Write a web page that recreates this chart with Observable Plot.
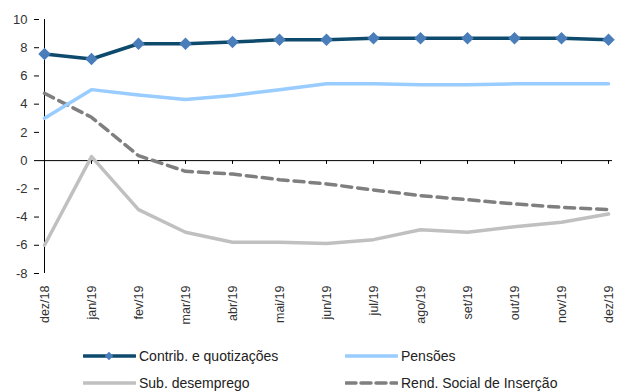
<!DOCTYPE html>
<html>
<head>
<meta charset="utf-8">
<script src="https://cdn.jsdelivr.net/npm/d3@7"></script>
<script src="https://cdn.jsdelivr.net/npm/@observablehq/plot@0.6"></script>
<style>
  body { margin: 0; background: #fff; font-family: "Liberation Sans", Arial, sans-serif; }
  #wrap { position: relative; width: 620px; height: 392px; }
  #wrap svg g[aria-label="x-axis tick label"] { font-size: 12.5px; }
  #wrap svg g[aria-label="y-axis tick label"] { font-size: 13px; }
  .leg { position: absolute; display: flex; align-items: center; font-size: 14px; color: #222; white-space: nowrap; }
  .leg svg { margin-right: 3px; }
</style>
</head>
<body>
<div id="wrap"></div>
<script>
const months = ["dez/18","jan/19","fev/19","mar/19","abr/19","mai/19","jun/19","jul/19","ago/19","set/19","out/19","nov/19","dez/19"];
const contrib = [7.55, 7.2, 8.28, 8.28, 8.4, 8.57, 8.57, 8.67, 8.67, 8.67, 8.67, 8.67, 8.57];
const pensoes = [3.0, 5.03, 4.65, 4.33, 4.62, 5.02, 5.44, 5.44, 5.37, 5.37, 5.44, 5.44, 5.44];
const subDesemprego = [-6.0, 0.28, -3.47, -5.08, -5.79, -5.79, -5.88, -5.6, -4.9, -5.08, -4.68, -4.37, -3.78];
const rsi = [4.77, 3.07, 0.35, -0.76, -0.95, -1.35, -1.65, -2.08, -2.48, -2.77, -3.07, -3.31, -3.47];
const yTicks = [-8, -6, -4, -2, 0, 2, 4, 6, 8, 10];

const seriesNames = ["Contrib. e quotizações", "Pensões", "Sub. desemprego", "Rend. Social de Inserção"];
const seriesValues = [contrib, pensoes, subDesemprego, rsi];
const colors = {"Contrib. e quotizações": "#0e4a6c", "Pensões": "#99ccff", "Sub. desemprego": "#c0c0c0", "Rend. Social de Inserção": "#7f7f7f"};
const markerColor = "#4a7ebb";

const rows = seriesNames.flatMap((s, i) => months.map((m, j) => ({series: s, month: m, value: seriesValues[i][j]})));
const of = s => rows.filter(d => d.series === s);

const chart = Plot.plot({
  width: 620,
  height: 335,
  marginLeft: 39,
  marginRight: 8,
  marginTop: 19,
  marginBottom: 62,
  style: {fontFamily: "Liberation Sans, Arial, sans-serif", fontSize: "13px", color: "#333", background: "#fff"},
  x: {type: "point", domain: months, padding: 0, label: null},
  y: {domain: [-8, 10], label: null},
  marks: [
    Plot.axisY({ticks: yTicks, tickSize: 5, tickPadding: 7, tickFormat: d => String(d), stroke: "#000", color: "#333", label: null}),
    Plot.axisX({anchor: "bottom", tickSize: 0, tickPadding: 12, tickRotate: -90, color: "#333", label: null}),
    Plot.ruleX([months[0]], {stroke: "#000", strokeWidth: 1}),
    Plot.ruleY([0], {stroke: "#000", strokeWidth: 1}),
    Plot.ruleX(months.slice(1), {x: d => d, y1: 0, y2: -0.27, stroke: "#000", strokeWidth: 1}),
    Plot.line(of("Sub. desemprego"), {x: "month", y: "value", stroke: colors["Sub. desemprego"], strokeWidth: 3.5}),
    Plot.line(of("Rend. Social de Inserção"), {x: "month", y: "value", stroke: colors["Rend. Social de Inserção"], strokeWidth: 3.5, strokeDasharray: "10,6"}),
    Plot.line(of("Pensões"), {x: "month", y: "value", stroke: colors["Pensões"], strokeWidth: 3.5}),
    Plot.line(of("Contrib. e quotizações"), {x: "month", y: "value", stroke: colors["Contrib. e quotizações"], strokeWidth: 3.5}),
    Plot.dot(of("Contrib. e quotizações"), {x: "month", y: "value", symbol: "square", rotate: 45, r: 5, fill: markerColor, stroke: "none"})
  ]
});

const wrap = document.getElementById("wrap");
wrap.appendChild(chart);

const legendPos = [[83, 356], [345, 356], [83, 383], [345, 383]];
seriesNames.forEach((s, i) => {
  const div = document.createElement("div");
  div.className = "leg";
  div.style.left = legendPos[i][0] + "px";
  div.style.top = (legendPos[i][1] - 9) + "px";
  div.style.height = "18px";
  const dash = s === "Rend. Social de Inserção" ? ' stroke-dasharray="10,5"' : "";
  const marker = s === "Contrib. e quotizações" ? `<rect x="23" y="6" width="6" height="6" fill="${markerColor}" transform="rotate(45 26 9)"/>` : "";
  div.innerHTML = `<svg width="53" height="18"><line x1="1" x2="52" y1="9" y2="9" stroke="${colors[s]}" stroke-width="3.5"${dash} stroke-linecap="round"/>${marker}</svg><span>${s}</span>`;
  wrap.appendChild(div);
});
</script>
</body>
</html>
